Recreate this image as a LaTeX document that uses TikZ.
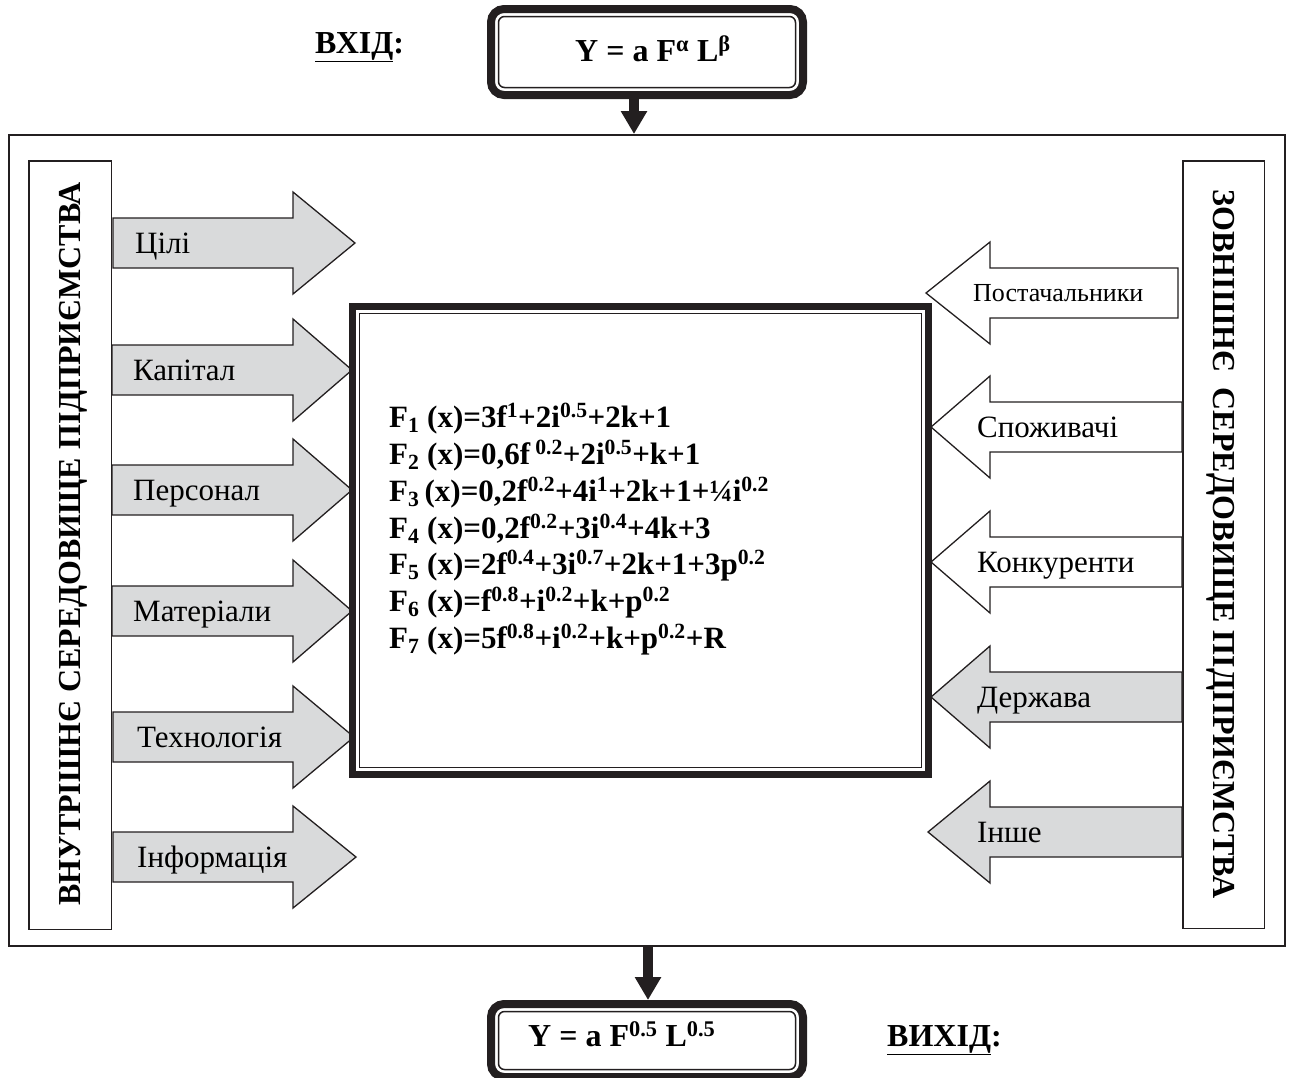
\documentclass[tikz,border=0pt]{standalone}
\usepackage{fontspec}
\setmainfont{Liberation Serif}
\usetikzlibrary{calc,arrows.meta}
\definecolor{ink}{RGB}{35,31,32}
\definecolor{fillg}{RGB}{217,218,219}
\newcommand{\ArrToRight}[4]{% #1 centre y, #2 shaft left x, #3 tip x, #4 fill
  \filldraw[blk, fill=#4] (#2,{#1-25}) -- (293,{#1-25}) -- (293,{#1-51}) -- (#3,#1) -- (293,{#1+51}) -- (293,{#1+25}) -- (#2,{#1+25}) -- cycle;}
\newcommand{\ArrToLeft}[4]{% #1 centre y, #2 shaft right x, #3 tip x, #4 fill
  \filldraw[blk, fill=#4] (#2,{#1-25}) -- (990,{#1-25}) -- (990,{#1-51}) -- (#3,#1) -- (990,{#1+51}) -- (990,{#1+25}) -- (#2,{#1+25}) -- cycle;}
\begin{document}
\begin{tikzpicture}[x=1pt,y=-1pt,
  blk/.style={draw=ink, line width=1.3pt, line join=miter},
  dbox/.style={draw=ink, line width=8pt, rounded corners=13pt, inner sep=0pt},
  thinline/.style={draw=ink, line width=1.5pt},
  bigbf/.style={font=\bfseries\fontsize{32}{38}\selectfont, inner sep=0pt},
  formula/.style={font=\bfseries\fontsize{31}{37}\selectfont, inner sep=0pt, anchor=base west},
  lab/.style={font=\fontsize{31}{37}\selectfont, inner sep=0pt, anchor=base west},
  vline/.style={draw=ink, line width=10pt, -{Triangle[width=25pt,length=23pt]}}
]
\useasboundingbox (0,0) rectangle (1289,1077);
\clip (0,0) rectangle (1289,1077);

% outer frame
\node[draw=ink, line width=2pt, minimum width=1276pt, minimum height=811pt, inner sep=0pt, anchor=north west] (frame) at (8,134) {};

% side boxes
\node[draw=ink, line width=1.5pt, minimum width=82.5pt, minimum height=768.5pt, inner sep=0pt, anchor=north west] (leftbox) at (28,160) {};
\node[draw=ink, line width=1.5pt, minimum width=81.5pt, minimum height=767.5pt, inner sep=0pt, anchor=north west] (rightbox) at (1182,160) {};
\node[bigbf, rotate=90, anchor=base] (intext) at (80,544) {ВНУТРІШНЄ СЕРЕДОВИЩЕ ПІДПРИЄМСТВА};
\node[bigbf, rotate=-90, anchor=base] (extext) at (1213,544) {ЗОВНІШНЄ\ \ СЕРЕДОВИЩЕ ПІДПРИЄМСТВА};

% left block arrows
\ArrToRight{243}{113}{355}{fillg}
\ArrToRight{370}{112}{352}{fillg}
\ArrToRight{490}{112}{352}{fillg}
\ArrToRight{611}{112}{352}{fillg}
\ArrToRight{737}{113}{354}{fillg}
\ArrToRight{857}{113}{356}{fillg}
\node[lab] (l1) at (135,253) {Цілі};
\node[lab] (l2) at (133,380) {Капітал};
\node[lab] (l3) at (133,500) {Персонал};
\node[lab] (l4) at (133,621) {Матеріали};
\node[lab] (l5) at (137,747) {Технологія};
\node[lab] (l6) at (137,867) {Інформація};

% right block arrows
\ArrToLeft{293}{1178}{926}{white}
\ArrToLeft{427}{1182}{931}{white}
\ArrToLeft{562}{1182}{931}{white}
\ArrToLeft{697}{1182}{931}{fillg}
\ArrToLeft{832}{1182}{928}{fillg}
\node[lab, font=\fontsize{26}{31}\selectfont] (r1) at (973,301) {Постачальники};
\node[lab] (r2) at (977,437) {Споживачі};
\node[lab] (r3) at (977,572) {Конкуренти};
\node[lab] (r4) at (977,707) {Держава};
\node[lab] (r5) at (977,842) {Інше};

% central box
\node[draw=ink, line width=7pt, minimum width=576pt, minimum height=468pt, inner sep=0pt] (core) at (640.5,540.5) {};
\draw[thinline] ($(core.north west)+(10.5,10.5)$) rectangle ($(core.south east)+(-10.5,-10.5)$);
\node[formula] (f1) at (389,427) {F\textsubscript{1} (x)=3f\textsuperscript{1}+2i\textsuperscript{0.5}+2k+1};
\node[formula] (f2) at (389,464) {F\textsubscript{2} (x)=0,6f\,\textsuperscript{0.2}+2i\textsuperscript{0.5}+k+1};
\node[formula] (f3) at (389,501) {F\textsubscript{3}\,(x)=0,2f\textsuperscript{0.2}+4i\textsuperscript{1}+2k+1+¼i\textsuperscript{0.2}};
\node[formula] (f4) at (389,538) {F\textsubscript{4} (x)=0,2f\textsuperscript{0.2}+3i\textsuperscript{0.4}+4k+3};
\node[formula] (f5) at (389,574) {F\textsubscript{5} (x)=2f\textsuperscript{0.4}+3i\textsuperscript{0.7}+2k+1+3p\textsuperscript{0.2}};
\node[formula] (f6) at (389,611) {F\textsubscript{6} (x)=f\textsuperscript{0.8}+i\textsuperscript{0.2}+k+p\textsuperscript{0.2}};
\node[formula] (f7) at (389,648) {F\textsubscript{7} (x)=5f\textsuperscript{0.8}+i\textsuperscript{0.2}+k+p\textsuperscript{0.2}+R};

% input box
\node[dbox, minimum width=312pt, minimum height=86pt] (topbox) at (647,52) {};
\draw[thinline, rounded corners=6pt] ($(topbox.north west)+(11.5,11.5)$) rectangle ($(topbox.south east)+(-11.5,-11.5)$);
\node[bigbf, anchor=base west] (intxt) at (575,61) {Y = a F\textsuperscript{α} L\textsuperscript{β}};
\node[bigbf, anchor=base west] (inlabel) at (315,53) {\underline{ВХІД}:};
\coordinate (ta) at ($(topbox.south)+(-13,0)$);
\coordinate (tb) at (ta |- frame.north);
\draw[vline] (ta) -- (tb);

% output box
\node[dbox, minimum width=312pt, minimum height=73pt] (botbox) at (647,1040.5) {};
\draw[thinline, rounded corners=6pt] ($(botbox.north west)+(11.5,11.5)$) rectangle ($(botbox.south east)+(-11.5,-11.5)$);
\node[bigbf, anchor=base west] (outtxt) at (528,1046) {Y = a F\textsuperscript{0.5} L\textsuperscript{0.5}};
\node[bigbf, anchor=base west] (outlabel) at (887,1046) {\underline{ВИХІД}:};
\coordinate (ba) at ($(frame.south)+(1,0)$);
\coordinate (bb) at (ba |- botbox.north);
\draw[vline] (ba) -- (bb);
\end{tikzpicture}
\end{document}
